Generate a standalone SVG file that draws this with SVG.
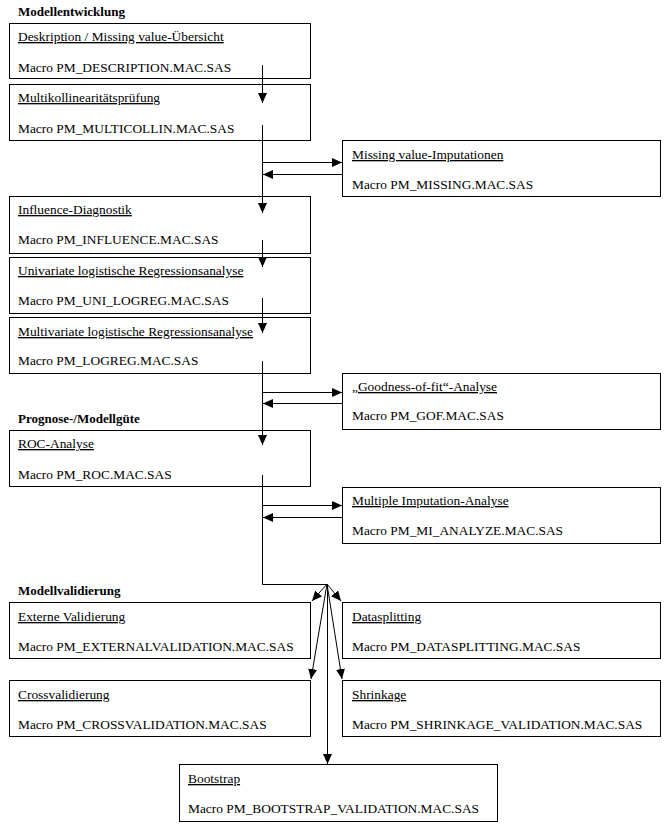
<svg xmlns="http://www.w3.org/2000/svg" width="667" height="830" viewBox="0 0 667 830">
<style>
text{font-family:"Liberation Serif","DejaVu Serif",serif;font-size:13.4px;fill:#000}
.h{font-weight:bold;font-size:13px}
.t{text-decoration:underline}
rect{fill:#fff;stroke:#000;stroke-width:1}
.c line,.c polyline{stroke:#000;stroke-width:1;fill:none}
</style>
<defs>
<marker id="ah" markerUnits="userSpaceOnUse" markerWidth="12" markerHeight="10" refX="10" refY="4.5" orient="auto">
<path d="M0,0 L10,4.5 L0,9 Z" fill="#000"/>
</marker>
</defs>
<rect x="0" y="0" width="667" height="830" style="stroke:none"/>
<text class="h" x="18" y="16">Modellentwicklung</text>
<text class="h" x="18" y="423">Prognose-/Modellgüte</text>
<text class="h" x="18" y="595">Modellvalidierung</text>

<g id="n1"><rect x="9.5" y="23.5" width="301" height="55"/><text class="t" x="18" y="41">Deskription / Missing value-Übersicht</text><text x="18" y="72">Macro PM_DESCRIPTION.MAC.SAS</text></g>
<g id="n2"><rect x="9.5" y="84.5" width="301" height="56"/><text class="t" x="18" y="102">Multikollinearitätsprüfung</text><text x="18" y="133">Macro PM_MULTICOLLIN.MAC.SAS</text></g>
<g id="n3"><rect x="342.5" y="140.5" width="318" height="56"/><text class="t" x="352" y="159">Missing value-Imputationen</text><text x="352" y="189">Macro PM_MISSING.MAC.SAS</text></g>
<g id="n4"><rect x="9.5" y="196.5" width="301" height="57"/><text class="t" x="18" y="214">Influence-Diagnostik</text><text x="18" y="244">Macro PM_INFLUENCE.MAC.SAS</text></g>
<g id="n5"><rect x="9.5" y="257.5" width="301" height="56"/><text class="t" x="18" y="275">Univariate logistische Regressionsanalyse</text><text x="18" y="305">Macro PM_UNI_LOGREG.MAC.SAS</text></g>
<g id="n6"><rect x="9.5" y="317.5" width="301" height="56"/><text class="t" x="18" y="336">Multivariate logistische Regressionsanalyse</text><text x="18" y="365">Macro PM_LOGREG.MAC.SAS</text></g>
<g id="n7"><rect x="342.5" y="373.5" width="318" height="56"/><text class="t" x="352" y="391">„Goodness-of-fit“-Analyse</text><text x="352" y="420">Macro PM_GOF.MAC.SAS</text></g>
<g id="n8"><rect x="9.5" y="430.5" width="301" height="56"/><text class="t" x="18" y="448">ROC-Analyse</text><text x="18" y="479">Macro PM_ROC.MAC.SAS</text></g>
<g id="n9"><rect x="342.5" y="487.5" width="318" height="56"/><text class="t" x="352" y="505">Multiple Imputation-Analyse</text><text x="352" y="535">Macro PM_MI_ANALYZE.MAC.SAS</text></g>
<g id="n10"><rect x="9.5" y="602.5" width="301" height="56"/><text class="t" x="18" y="621">Externe Validierung</text><text x="18" y="651">Macro PM_EXTERNALVALIDATION.MAC.SAS</text></g>
<g id="n11"><rect x="342.5" y="602.5" width="318" height="56"/><text class="t" x="352" y="621">Datasplitting</text><text x="352" y="651">Macro PM_DATASPLITTING.MAC.SAS</text></g>
<g id="n12"><rect x="9.5" y="680.5" width="301" height="56"/><text class="t" x="18" y="699">Crossvalidierung</text><text x="18" y="729">Macro PM_CROSSVALIDATION.MAC.SAS</text></g>
<g id="n13"><rect x="342.5" y="680.5" width="318" height="56"/><text class="t" x="352" y="699">Shrinkage</text><text x="352" y="729">Macro PM_SHRINKAGE_VALIDATION.MAC.SAS</text></g>
<g id="n14"><rect x="179.5" y="764.5" width="318" height="57"/><text class="t" x="188" y="783">Bootstrap</text><text x="188" y="813">Macro PM_BOOTSTRAP_VALIDATION.MAC.SAS</text></g>

<g class="c" id="connectors">
<line x1="262.5" y1="65" x2="262.5" y2="103" marker-end="url(#ah)"/>
<line x1="262.5" y1="125" x2="262.5" y2="213" marker-end="url(#ah)"/>
<line x1="262.5" y1="162.5" x2="342" y2="162.5" marker-end="url(#ah)"/>
<line x1="342" y1="174.5" x2="263" y2="174.5" marker-end="url(#ah)"/>
<line x1="262.5" y1="240" x2="262.5" y2="267" marker-end="url(#ah)"/>
<line x1="262.5" y1="298" x2="262.5" y2="333" marker-end="url(#ah)"/>
<line x1="262.5" y1="361" x2="262.5" y2="445" marker-end="url(#ah)"/>
<line x1="262.5" y1="392.5" x2="342" y2="392.5" marker-end="url(#ah)"/>
<line x1="342" y1="403.5" x2="263" y2="403.5" marker-end="url(#ah)"/>
<polyline points="262.5,475 262.5,584.5 327,584.5"/>
<line x1="262.5" y1="505.5" x2="342" y2="505.5" marker-end="url(#ah)"/>
<line x1="342" y1="517.5" x2="263" y2="517.5" marker-end="url(#ah)"/>
<line x1="327" y1="584" x2="312" y2="601" marker-end="url(#ah)"/>
<line x1="327" y1="584" x2="341" y2="601" marker-end="url(#ah)"/>
<line x1="327" y1="584" x2="311" y2="679" marker-end="url(#ah)"/>
<line x1="327" y1="584" x2="342" y2="679" marker-end="url(#ah)"/>
<line x1="327.5" y1="584" x2="327.5" y2="764" marker-end="url(#ah)"/>
</g>
</svg>
